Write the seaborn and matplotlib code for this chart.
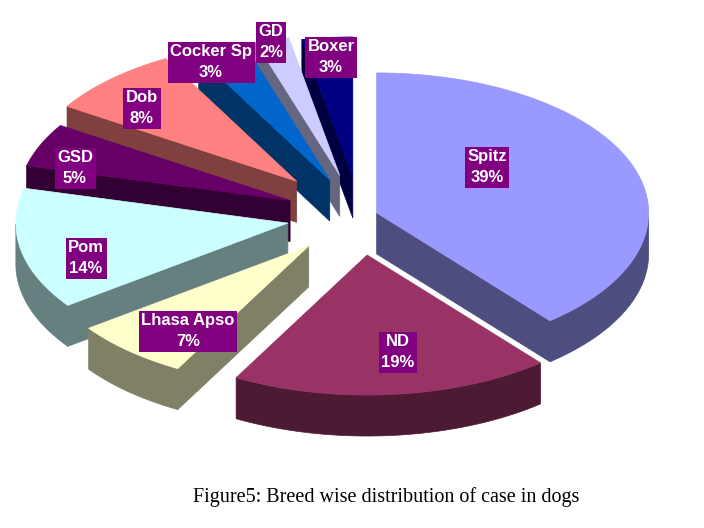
import numpy as np
import seaborn as sns
import matplotlib.pyplot as plt
from matplotlib.patches import Polygon

# Breed wise distribution of cases (percent)
breeds = ["Spitz", "ND", "Lhasa Apso", "Pom", "GSD", "Dob", "Cocker Sp", "GD", "Boxer"]
shares = [39, 19, 7, 14, 5, 8, 3, 2, 3]
colors = ["#9999FF", "#993366", "#FFFFCC", "#CCFFFF", "#660066",
          "#FF8080", "#0066CC", "#CCCCFF", "#000080"]

# how far each slice is pulled out (fraction of radius)
explode = [0.065, 0.28, 0.285, 0.27, 0.28, 0.34, 0.28, 0.30, 0.28]
# label anchors in pixels
label_xy = [(487, 167), (398, 352), (188, 331), (86, 258), (75, 168),
            (142, 108), (211, 62), (271, 42), (331, 57)]

sns.set_theme(style="white")
plt.rcParams["font.family"] = ["Liberation Sans", "DejaVu Sans"]

fig = plt.figure(figsize=(7.04, 5.28), dpi=100)
ax = fig.add_axes([0, 0, 1, 1])
ax.set_xlim(0, 704)
ax.set_ylim(528, 0)
ax.axis("off")

cx, cy = 360, 216
rx, ry = 272, 140
depth = 41


def shade(c, f=0.5):
    r, g, b = [int(c[i:i + 2], 16) for i in (1, 3, 5)]
    return (r * f / 255, g * f / 255, b * f / 255)


def pt(ax0, ay0, t):
    return (ax0 + rx * np.cos(np.radians(t)), ay0 - ry * np.sin(np.radians(t)))


# slice angles, start at 12 o'clock, clockwise
bounds = 90 - np.cumsum([0] + shares) * 3.6
slices = []
for i in range(len(shares)):
    t1, t2 = bounds[i], bounds[i + 1]
    m = (t1 + t2) / 2
    ex = cx + explode[i] * rx * np.cos(np.radians(m))
    ey = cy - explode[i] * ry * np.sin(np.radians(m))
    slices.append((i, t1, t2, m, ex, ey))

# back slices first
for i, t1, t2, m, ex, ey in sorted(slices, key=lambda s: -np.sin(np.radians(s[3]))):
    top = colors[i]
    side = shade(top)
    ts = np.linspace(t1, t2, 120)
    # radial walls
    for phi, nrm in ((t1, t1 + 90), (t2, t2 - 90)):
        if np.sin(np.radians(nrm)) < -1e-6:
            ox, oy = pt(ex, ey, phi)
            quad = [(ex, ey), (ox, oy), (ox, oy + depth), (ex, ey + depth)]
            ax.add_patch(Polygon(quad, closed=True, fc=side, ec=side, lw=0.5))
    # outer wall (front part only)
    front = ts[np.sin(np.radians(ts)) < 0]
    if len(front) > 1:
        upper = [pt(ex, ey, t) for t in front]
        lower = [(x, y + depth) for x, y in upper[::-1]]
        ax.add_patch(Polygon(upper + lower, closed=True, fc=side, ec=side, lw=0.5))
    # top face
    face = [(ex, ey)] + [pt(ex, ey, t) for t in ts]
    ax.add_patch(Polygon(face, closed=True, fc=top, ec=top, lw=0.5))

for (lx, ly), name, s in zip(label_xy, breeds, shares):
    ax.text(lx, ly, f"{name}\n{s}%", ha="center", va="center", color="white",
            fontsize=12, fontweight="bold", linespacing=1.5, multialignment="center",
            bbox=dict(boxstyle="square,pad=0.15", fc="#800080", ec="none"))

ax.text(386, 497, "Figure5: Breed wise distribution of case in dogs", ha="center", va="center",
        fontsize=14.5, family=["Liberation Serif", "DejaVu Serif"], color="black")

fig.savefig("out.png", dpi=100)
